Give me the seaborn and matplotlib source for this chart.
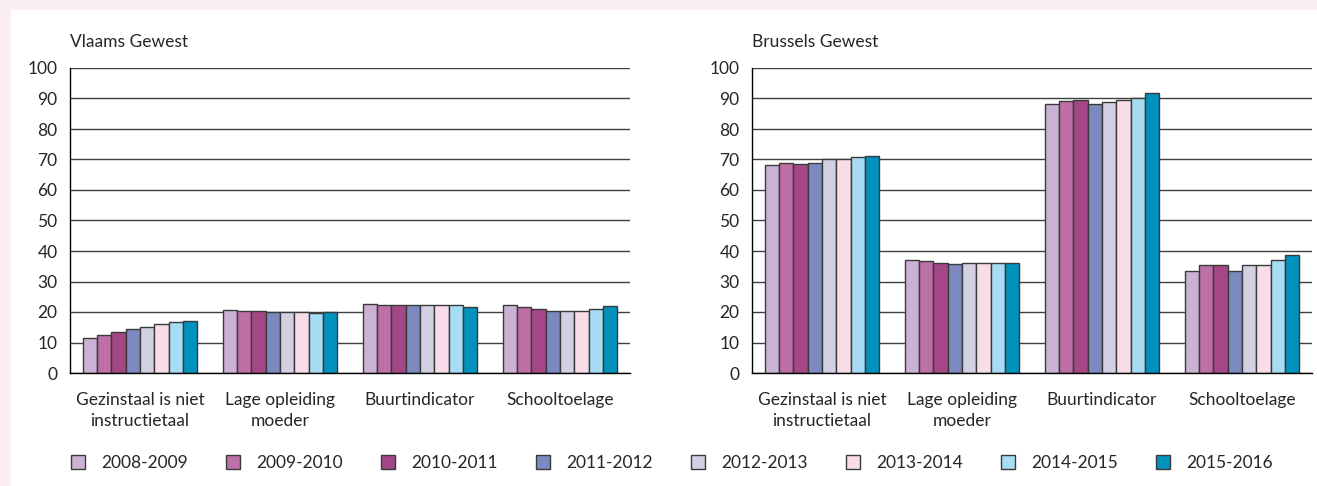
import pandas as pd
import matplotlib.pyplot as plt
import seaborn as sns
from matplotlib.patches import Patch, Rectangle
from matplotlib.ticker import FixedLocator

# Data
years = ['2008-2009', '2009-2010', '2010-2011', '2011-2012',
         '2012-2013', '2013-2014', '2014-2015', '2015-2016']
categories = ['Gezinstaal is niet\ninstructietaal', 'Lage opleiding\nmoeder',
              'Buurtindicator', 'Schooltoelage']

# values per category, one entry per school year
vlaams_gezinstaal = [11.6, 12.6, 13.4, 14.3, 15.2, 16.0, 16.6, 17.2]
vlaams_opleiding = [20.8, 20.4, 20.2, 20.1, 19.9, 19.9, 19.8, 20.1]
vlaams_buurt = [22.7, 22.2, 22.2, 22.2, 22.2, 22.2, 22.2, 21.8]
vlaams_toelage = [22.2, 21.8, 21.0, 20.2, 20.4, 20.2, 20.9, 22.1]

brussel_gezinstaal = [68.2, 68.7, 68.4, 68.8, 70.1, 70.3, 70.9, 71.2]
brussel_opleiding = [37.0, 36.7, 36.2, 35.9, 36.2, 36.2, 36.2, 36.2]
brussel_buurt = [88.3, 89.1, 89.4, 88.3, 88.8, 89.4, 90.0, 91.7]
brussel_toelage = [33.4, 35.3, 35.3, 33.6, 35.3, 35.3, 37.2, 38.6]

colors = ['#CBB2D4', '#BE6FA6', '#A34786', '#7B89BF',
          '#D3D0E4', '#F8DCE8', '#A7DCF5', '#0091BD']


def to_long(series_list):
    rows = []
    for cat, vals in zip(categories, series_list):
        for yr, v in zip(years, vals):
            rows.append({'cat': cat, 'year': yr, 'val': v})
    return pd.DataFrame(rows)


df_vl = to_long([vlaams_gezinstaal, vlaams_opleiding, vlaams_buurt, vlaams_toelage])
df_br = to_long([brussel_gezinstaal, brussel_opleiding, brussel_buurt, brussel_toelage])

sns.set_style('white')
plt.rcParams['font.family'] = ['Lato', 'DejaVu Sans']
FS = 12.5

fig = plt.figure(figsize=(13.17, 4.86), dpi=100)
fig.patch.set_facecolor('#F8EEF3')
fig.patches.append(Rectangle((11 / 1317, 0), 1, 1 - 10 / 486, transform=fig.transFigure,
                             facecolor='white', edgecolor='none', zorder=-10))

W, H = 1317, 486
axes = []
for x0 in (70, 752):
    ax = fig.add_axes([x0 / W, 1 - 373 / H, 560 / W, 305 / H])
    axes.append(ax)

for ax, df, title in zip(axes, [df_vl, df_br], ['Vlaams Gewest', 'Brussels Gewest']):
    sns.barplot(data=df, x='cat', y='val', hue='year', palette=colors, ax=ax,
                width=0.82, edgecolor='#3a3a3a', linewidth=1, legend=False,
                errorbar=None, saturation=1)
    ax.set_facecolor('none')
    ax.set_ylim(0, 100)
    ax.set_xlim(-0.5, 3.5)
    ax.set_yticks(range(0, 101, 10))
    ax.yaxis.grid(True, color='#404040', linewidth=1)
    ax.set_axisbelow(True)
    for s in ('top', 'right'):
        ax.spines[s].set_visible(False)
    for s in ('left', 'bottom'):
        ax.spines[s].set_color('black')
        ax.spines[s].set_linewidth(1)
    ax.tick_params(axis='y', length=0, pad=9, labelsize=FS)
    ax.tick_params(axis='x', which='major', length=0, pad=14, labelsize=FS)
    for lbl in ax.get_xticklabels():
        lbl.set_linespacing(1.35)
    ax.xaxis.set_minor_locator(FixedLocator([0.5, 1.5, 2.5, 3.5]))
    ax.tick_params(axis='x', which='minor', direction='in', length=6, width=1, color='black')
    ax.set_xlabel('')
    ax.set_ylabel('')
    ax.text(0, 1.06, title, transform=ax.transAxes, fontsize=FS, ha='left', va='bottom')

handles = [Patch(facecolor=c, edgecolor='#3a3a3a', linewidth=1) for c in colors]
fig.legend(handles, years, loc='center left', bbox_to_anchor=(71 / W, 1 - 463 / H),
           ncol=8, frameon=False, fontsize=FS, handlelength=0.8, handleheight=0.8,
           columnspacing=2.22, handletextpad=0.92, borderaxespad=0, borderpad=0)

plt.savefig('out.png', dpi=100)
